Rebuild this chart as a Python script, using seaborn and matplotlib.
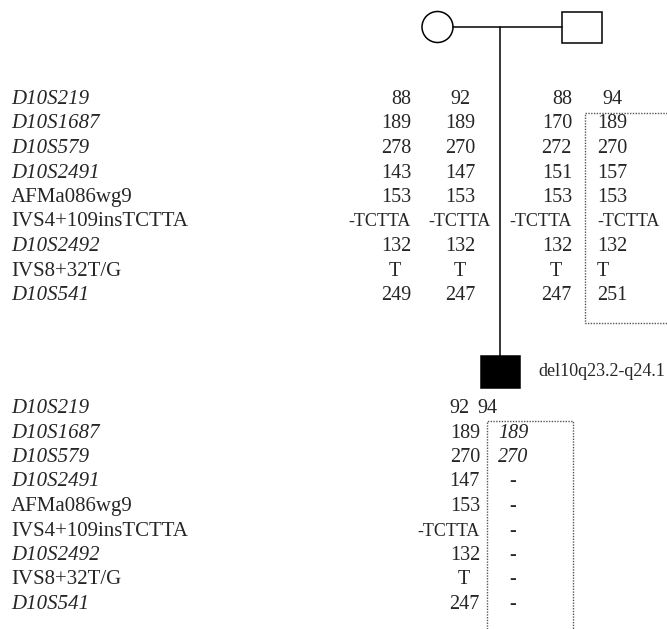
import numpy as np
import pandas as pd
import matplotlib
matplotlib.use("Agg")
import matplotlib.pyplot as plt
from matplotlib.patches import Circle, Rectangle
import seaborn as sns

# 标记名称与单倍型
markers = ["D10S219", "D10S1687", "D10S579", "D10S2491", "AFMa086wg9",
           "IVS4+109insTCTTA", "D10S2492", "IVS8+32T/G", "D10S541"]
marker_italic = [True, True, True, True, False, False, True, False, True]

mother_a = ["88", "189", "278", "143", "153", "-TCTTA", "132", "T", "249"]
mother_b = ["92", "189", "270", "147", "153", "-TCTTA", "132", "T", "247"]
father_a = ["88", "170", "272", "151", "153", "-TCTTA", "132", "T", "247"]
father_b = ["94", "189", "270", "157", "153", "-TCTTA", "132", "T", "251"]
child_a = ["92", "189", "270", "147", "153", "-TCTTA", "132", "T", "247"]
child_b = ["94", "189", "270", "-", "-", "-", "-", "-", "-"]
child_b_italic = [False, True, True, False, False, False, False, False, False]
child_label = "del10q23.2-q24.1"

sns.set_theme(style="white")
plt.rcParams['font.family'] = ['Liberation Serif', 'DejaVu Serif']

fig = plt.figure(figsize=(6.67, 6.29), dpi=100)
ax = fig.add_axes([0, 0, 1, 1])
ax.set_xlim(0, 667)
ax.set_ylim(629, 0)
ax.axis('off')

FS = 14.5
row_top = 98
row_bot = 407
step = 24.5


def put(x, y, s, align, italic=False):
    size = 13 if len(s) > 3 else FS
    style = 'italic' if italic else 'normal'
    if align == 'right' and len(s) == 1:
        ax.text(x - 16, y + 6, s, ha='center', va='baseline', fontsize=size, fontstyle=style)
    else:
        ax.text(x, y + 6, s, ha=align, va='baseline', fontsize=size, fontstyle=style)


# 标记名称
for base in (row_top, row_bot):
    for i, (m, it) in enumerate(zip(markers, marker_italic)):
        ax.text(11, base + i * step + 6, m, ha='left', va='baseline', fontsize=15,
                fontstyle='italic' if it else 'normal')

# 父母单倍型
for i in range(len(markers)):
    y = row_top + i * step
    put(411, y, mother_a[i], 'right')
    put(460, y, mother_b[i], 'center')
    put(572, y, father_a[i], 'right')
    put(597 if i else 602, y, father_b[i], 'left')

# 先证者单倍型
for i in range(len(markers)):
    y = row_bot + i * step
    if i == 0:
        put(469, y, child_a[i], 'right')
        put(487, y, child_b[i], 'center')
    else:
        put(480, y, child_a[i], 'right')
        put(513, y, child_b[i], 'center', child_b_italic[i])

# 系谱图
lw = 1.1
ax.add_patch(Circle((437.5, 27), 15.5, fill=False, ec='black', lw=lw))
ax.add_patch(Rectangle((562, 12), 40, 31, fill=False, ec='black', lw=lw))
ax.plot([453, 562], [27, 27], color='black', lw=lw)
ax.plot([500, 500], [27, 356], color='black', lw=lw)
ax.add_patch(Rectangle((481, 356), 39, 32, fc='black', ec='black', lw=lw))
ax.text(538, 372, child_label, ha='left', va='center', fontsize=13)

# 虚线框
dot = dict(color='#555555', lw=1, ls=(0, (1, 1)))
ax.plot([667, 585, 585, 667], [113, 113, 323, 323], **dot)
ax.plot([487, 487, 573, 573], [629, 421, 421, 629], **dot)

fig.savefig("out.png", dpi=100)
